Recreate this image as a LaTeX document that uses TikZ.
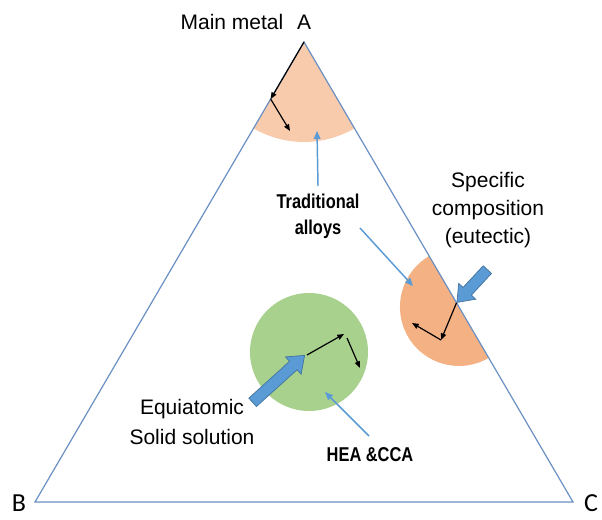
\documentclass[tikz,border=0pt]{standalone}
\usepackage{fontspec}
\setmainfont{Liberation Sans}
\newfontfamily\narrowsans[FakeStretch=0.82]{Liberation Sans}
\newfontfamily\cornerfont{Carlito}
\usetikzlibrary{arrows.meta,calc,shapes.arrows}

\definecolor{edgeblue}{RGB}{106,143,194}
\definecolor{arrowblue}{RGB}{91,155,213}
\definecolor{arrowline}{RGB}{65,113,156}
\definecolor{peach}{RGB}{248,203,173}
\definecolor{apricot}{RGB}{244,177,131}
\definecolor{leaf}{RGB}{169,209,142}

\begin{document}
\begin{tikzpicture}[
  x=0.75pt, y=-0.75pt,
  edge/.style={draw=edgeblue, line width=0.9pt, line join=miter},
  move/.style={draw=black, line width=0.9pt, -{Triangle[length=5pt,width=4pt]}},
  pointer/.style={draw=arrowblue, line width=1.1pt, -{Triangle[length=6pt,width=5pt]}},
  bigarrow/.style={single arrow, draw=arrowline, fill=arrowblue, line width=0.5pt,
    inner xsep=0pt, inner ysep=4pt, single arrow head extend=4.5pt,
    single arrow tip angle=75, anchor=tip},
  txt/.style={font=\fontsize{15.75}{21}\selectfont, align=center},
  tag/.style={font=\narrowsans\bfseries\fontsize{15}{19.5}\selectfont, align=center},
  corner/.style={font=\cornerfont\fontsize{19.5}{22}\selectfont},
]
\useasboundingbox (0,0) rectangle (602,520);

% corners of the ternary diagram
\coordinate (A) at (304,42);
\coordinate (B) at (35,502);
\coordinate (C) at (573,502);
\coordinate (E) at ($(A)!0.576!(C)$);
\coordinate (G) at (309,352);

% composition regions
\fill[peach] (A) -- ++(120.3:100) arc[start angle=120.3, end angle=59.7, radius=100] -- cycle;
\fill[apricot] (E) -- ++(59.7:59) arc[start angle=59.7, end angle=239.7, radius=59] -- cycle;
\fill[leaf] (G) circle[radius=59];

\draw[edge] (A) -- (B) -- (C) -- cycle;

% alloying steps
\coordinate (a1) at ($(A)!0.124!(B)$);
\coordinate (a2) at (290,131);
\coordinate (e0) at ($(A)!0.567!(C)$);
\coordinate (e1) at (441,340);
\coordinate (e2) at (412,323);
\coordinate (g0) at (307,355);
\coordinate (g1) at (344,334);
\coordinate (g2) at (347,338);
\coordinate (g3) at (360,368);
\draw[move] (A) -- (a1);
\draw[move] (a1) -- (a2);
\draw[move] (e0) -- (e1);
\draw[move] (e1) -- (e2);
\draw[move] (g0) -- (g1);
\draw[move] (g2) -- (g3);

% labels
\node[txt] (mainmetal) at (232,22) {Main metal};
\node[txt] (lblA) at (304,22) {A};
\node[corner] (lblB) at (19,503) {B};
\node[corner] (lblC) at (591,503) {C};
\node[tag] (trad) at (318,216) {Traditional\\alloys};
\node[txt] (spec) at (488,210) {Specific\\composition\\(eutectic)};
\node[txt, font=\fontsize{15.75}{23}\selectfont] (equi) at (192,422) {Equiatomic\\Solid solution};
\node[tag] (hea) at (370,455) {HEA \&CCA};

% pointers to the regions
\coordinate (t1) at (318,186);
\coordinate (p1) at (317,131);
\coordinate (t2) at (360,228);
\coordinate (p2) at (413,286);
\coordinate (t3) at (369,436);
\coordinate (p3) at (325,392);
\draw[pointer] (t1) -- (p1);
\draw[pointer] (t2) -- (p2);
\draw[pointer] (t3) -- (p3);

% block arrows
\coordinate (etail) at (487,270);
\coordinate (gtail) at (253,402);
\coordinate (gtip) at (305,355);
\path let \p1=($(e0)-(etail)$) in
  node[bigarrow, minimum height={veclen(\x1,\y1)}, rotate={atan2(\y1,\x1)}] (eutarrow) at (e0) {};
\path let \p1=($(gtip)-(gtail)$) in
  node[bigarrow, minimum height={veclen(\x1,\y1)}, rotate={atan2(\y1,\x1)}] (equiarrow) at (gtip) {};
\end{tikzpicture}
\end{document}
